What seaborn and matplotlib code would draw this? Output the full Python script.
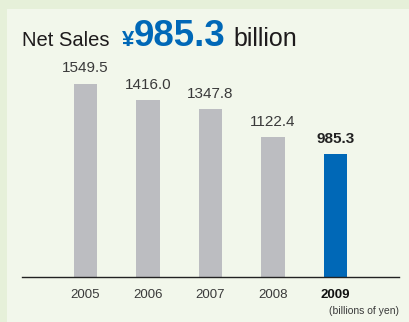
import matplotlib
matplotlib.use("Agg")
import matplotlib.pyplot as plt
import seaborn as sns
import pandas as pd

years = ["2005", "2006", "2007", "2008", "2009"]
net_sales = [1549.5, 1416.0, 1347.8, 1122.4, 985.3]
value_labels = ["1549.5", "1416.0", "1347.8", "1122.4", "985.3"]
highlight_year = "2009"
headline_value = "985.3"

GRAY = "#bcbdc1"
BLUE = "#0068b7"
OUTER_BG = "#e6f0d9"
PANEL_BG = "#f2f7eb"
TEXT = "#3a3a3a"

sns.set_theme(style="white")
plt.rcParams["font.family"] = ["Liberation Sans", "DejaVu Sans"]

W, H = 409, 322
fig = plt.figure(figsize=(W / 100, H / 100), dpi=100)
fig.patch.set_facecolor(OUTER_BG)

# lighter inner panel, drawn underneath the axes
panel = plt.Rectangle((7 / W, 0), 1 - 7 / W, 1 - 9 / H, transform=fig.transFigure,
                      facecolor=PANEL_BG, edgecolor="none", zorder=-5)
fig.patches.append(panel)

ax_bottom = (H - 277) / H
ax_top = (H - 60) / H
ax = fig.add_axes([22 / W, ax_bottom, (399 - 22) / W, ax_top - ax_bottom])
ax.set_facecolor("none")
ax.set_zorder(2)

df = pd.DataFrame({"year": years, "sales": net_sales})
palette = {y: (BLUE if y == highlight_year else GRAY) for y in years}
sns.barplot(data=df, x="year", y="sales", hue="year", palette=palette,
            width=0.37, legend=False, ax=ax, saturation=1, linewidth=0)

ax.set_ylim(0, 1740)
ax.set_xlim(-1.016, 5.016)
ax.set_xlabel("")
ax.set_ylabel("")
ax.set_yticks([])
for side in ["left", "right", "top"]:
    ax.spines[side].set_visible(False)
ax.spines["bottom"].set_color("#222222")
ax.spines["bottom"].set_linewidth(1.0)

ax.tick_params(axis="x", length=0, pad=9, labelsize=9.5, labelcolor=TEXT)
for lbl in ax.get_xticklabels():
    if lbl.get_text() == highlight_year:
        lbl.set_fontweight("bold")
        lbl.set_color("#111111")

# value labels above bars
for i, (v, txt) in enumerate(zip(net_sales, value_labels)):
    bold = years[i] == highlight_year
    ax.annotate(txt, xy=(i, v), xytext=(0, 6), textcoords="offset points",
                ha="center", va="bottom", fontsize=11,
                color="#222222" if bold else TEXT,
                fontweight="bold" if bold else "normal")

fig.text(399 / W, (H - 311) / H, "(billions of yen)", ha="right", va="center",
         fontsize=7.5, color=TEXT)

# headline
base_y = (H - 46) / H
fig.text(22 / W, base_y, "Net Sales", ha="left", va="baseline",
         fontsize=14.5, color="#1e1b1c")
fig.text(122 / W, base_y, "¥", ha="left", va="baseline",
         fontsize=16, fontweight="bold", color=BLUE)
fig.text(134 / W, base_y, headline_value, ha="left", va="baseline",
         fontsize=26.5, fontweight="bold", color=BLUE)
fig.text(233 / W, base_y, "billion", ha="left", va="baseline",
         fontsize=18, color="#1e1b1c")

fig.savefig("out.png", dpi=100, facecolor=fig.get_facecolor())
